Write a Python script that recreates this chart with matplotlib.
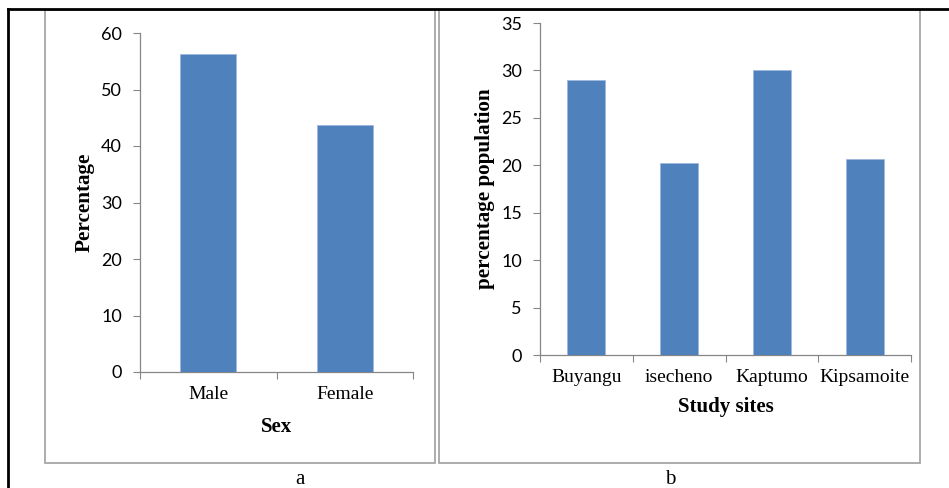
import numpy as np
import matplotlib
matplotlib.use('Agg')
from matplotlib import pyplot as plt
from matplotlib.patches import Rectangle
from matplotlib.lines import Line2D

# data
sex = ['Male', 'Female']
sex_pct = [56.2, 43.7]
sites = ['Buyangu', 'isecheno', 'Kaptumo', 'Kipsamoite']
site_pct = [29.0, 20.2, 30.0, 20.7]

W, H = 949, 488
bar_col = '#4F81BD'
axis_col = '#868686'
num_font = 'Lato'
ser_font = 'Liberation Serif'

fig = plt.figure(figsize=(W / 100, H / 100), dpi=100)

def fx(x):
    return x / W

def fy(y):
    return 1 - y / H

def pix_axes(x0, y0, x1, y1):
    return fig.add_axes([fx(x0), fy(y1), fx(x1) - fx(x0), fy(y0) - fy(y1)])

def style(ax, cats, vals, ymax, ystep, xlabel, ylabel, ylab_x, xlab_pad):
    x = np.arange(len(cats))
    ax.bar(x, vals, width=0.41, color=bar_col, edgecolor='#9DB9DE', linewidth=0.6, zorder=3)
    ax.set_xlim(-0.5, len(cats) - 0.5)
    ax.set_ylim(0, ymax)
    ax.set_yticks(np.arange(0, ymax + 0.1, ystep))
    ax.set_yticklabels([str(int(v)) for v in np.arange(0, ymax + 0.1, ystep)],
                       fontfamily=num_font, fontsize=13)
    ax.set_xticks(x)
    ax.set_xticklabels(cats, fontfamily=ser_font, fontsize=14)
    ax.set_xticks(np.arange(-0.5, len(cats)), minor=True)
    ax.tick_params(axis='x', which='major', length=0, pad=10)
    ax.tick_params(axis='x', which='minor', length=5, color=axis_col, width=0.8)
    ax.tick_params(axis='y', length=5, color=axis_col, width=0.8, pad=8)
    for s in ['top', 'right']:
        ax.spines[s].set_visible(False)
    for s in ['left', 'bottom']:
        ax.spines[s].set_color(axis_col)
        ax.spines[s].set_linewidth(0.9)
    ax.set_xlabel(xlabel, fontfamily=ser_font, fontsize=15, fontweight='bold', labelpad=xlab_pad)
    ax.set_ylabel(ylabel, fontfamily=ser_font, fontsize=15.2, fontweight='bold')
    ax.yaxis.set_label_coords(ylab_x, 0.5)

# panel a
ax1 = pix_axes(140, 33, 413, 372)
style(ax1, sex, sex_pct, 60, 10, 'Sex', 'Percentage', (95 - 140) / 273, 10)

# panel b
ax2 = pix_axes(540, 23, 911, 355)
style(ax2, sites, site_pct, 35, 5, 'Study sites', 'percentage population', (495 - 540) / 371, 8)

# panel boxes
box_col = '#A6A6A6'
for x0, x1 in [(45, 434.5), (438.5, 919.5)]:
    fig.add_artist(Rectangle((fx(x0), fy(463)), fx(x1) - fx(x0), fy(10) - fy(463),
                             transform=fig.transFigure, fill=False, edgecolor=box_col, linewidth=1.3))

# outer frame lines
fig.add_artist(Line2D([fx(8), fx(948)], [fy(8.5), fy(8.5)], transform=fig.transFigure, color='black', linewidth=2))
fig.add_artist(Line2D([fx(8), fx(8)], [fy(8.5), fy(488)], transform=fig.transFigure, color='black', linewidth=2))

# panel letters
fig.text(fx(300), fy(479), 'a', fontfamily=ser_font, fontsize=15, ha='center', va='center')
fig.text(fx(670), fy(479), 'b', fontfamily=ser_font, fontsize=15, ha='center', va='center')

fig.savefig('out.png', dpi=100)
